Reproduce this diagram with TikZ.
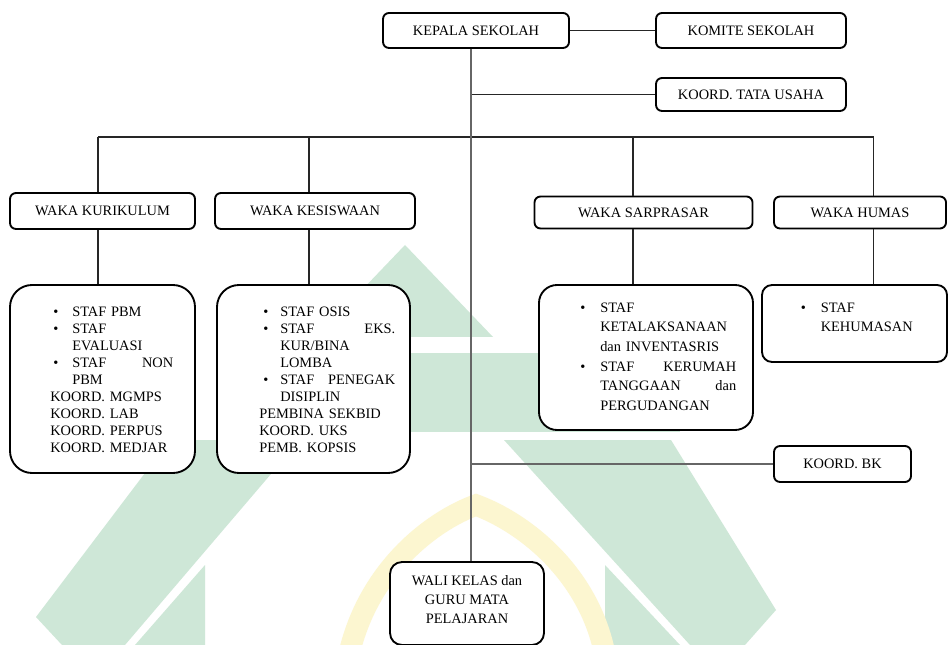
\documentclass[tikz,border=0pt]{standalone}
\usepackage{fontspec}
\setmainfont{Liberation Serif}
\setlength{\parindent}{0pt}
\setlength{\parskip}{0pt}
\definecolor{wmgreen}{RGB}{206,231,215}
\definecolor{wmyellow}{RGB}{252,246,208}
\newcommand{\bl}[2]{\makebox[#1][l]{\hspace{#2}\textbullet}}
\tikzset{
  box/.style={draw=black, line width=1.4pt, fill=white, rounded corners=4.5pt, inner sep=0pt,
              font=\fontsize{10.8pt}{12.75pt}\selectfont},
  bigbox/.style={box, rounded corners=16.5pt},
  txt/.style={inner sep=0pt, anchor=north west, align=left,
              font=\fontsize{10.8pt}{12.75pt}\selectfont},
  link/.style={draw=black!85, line width=0.8pt},
  spineline/.style={draw=black!60, line width=1pt},
}
\begin{document}
\begin{tikzpicture}[x=0.75pt, y=-0.75pt]
\useasboundingbox (0,0) rectangle (950,645);
\fill[white] (0,0) rectangle (950,645);

% watermark (background logo)
\fill[wmgreen] (405,245) -- (493,337) -- (317,337) -- cycle;
\fill[wmgreen] (330,353) -- (680,353) -- (680,432) -- (330,432) -- cycle;
\fill[wmgreen] (504,440) -- (671,440) -- (776,610) -- (745,645) -- (690,645) -- cycle;
\fill[wmgreen] (605,565) -- (605,645) -- (680,645) -- cycle;
\fill[wmgreen] (300,440) -- (170,440) -- (36,617) -- (62,645) -- (125,645) -- cycle;
\fill[wmgreen] (205,565) -- (205,645) -- (135,645) -- cycle;
\draw[wmyellow, line width=16pt] (350,650) .. controls (370,570) and (430,522) .. (476,505)
      .. controls (522,522) and (586,570) .. (604,650);

% spine x-position
\coordinate (spine) at (471,0);

% top level
\node[box, minimum width=139.5pt, minimum height=26.25pt] (kepala) at (476,30.5) {KEPALA SEKOLAH};
\node[box, minimum width=142.5pt, minimum height=26.25pt] (komite) at (751,30.5) {KOMITE SEKOLAH};
\node[box, minimum width=142.5pt, minimum height=24.75pt] (tata) at (751,94.5) {KOORD. TATA USAHA};

% waka level
\node[box, minimum width=138.75pt, minimum height=27pt] (wkur) at (102.5,211) {WAKA KURIKULUM};
\node[box, minimum width=150pt, minimum height=27pt] (wkes) at (315,211) {WAKA KESISWAAN};
\node[box, minimum width=163.5pt, minimum height=24pt] (wsar) at (643.5,212.5) {WAKA SARPRASAR};
\node[box, minimum width=129pt, minimum height=24pt] (whum) at (860,212.5) {WAKA HUMAS};

% staff boxes
\node[bigbox, minimum width=138.75pt, minimum height=141pt] (skur) at (102.5,379) {};
\node[bigbox, minimum width=144.75pt, minimum height=141pt] (skes) at (313.5,379) {};
\node[box, rounded corners=13.5pt, minimum width=160.5pt, minimum height=108.75pt] (ssar) at (646,357.5) {};
\node[box, rounded corners=7.5pt, minimum width=138.75pt, minimum height=57.75pt] (shum) at (854.5,323.5) {};

\node[txt, text width=92.25pt] (tkur) at (50,306.8) {%
\bl{16.5pt}{2.25pt}STAF PBM\\
\bl{16.5pt}{2.25pt}STAF\\
\hspace*{16.5pt}EVALUASI\\
\bl{16.5pt}{2.25pt}STAF\hfill NON\\
\hspace*{16.5pt}PBM\\
KOORD. MGMPS\\
KOORD. LAB\\
KOORD. PERPUS\\
KOORD. MEDJAR};

\node[txt, text width=102pt] (tkes) at (259,306.8) {%
\bl{15.75pt}{3pt}STAF OSIS\\
\bl{15.75pt}{3pt}STAF\hfill EKS.\\
\hspace*{15.75pt}KUR/BINA\\
\hspace*{15.75pt}LOMBA\\
\bl{15.75pt}{3pt}STAF\hfill PENEGAK\\
\hspace*{15.75pt}DISIPLIN\\
PEMBINA SEKBID\\
KOORD. UKS\\
PEMB. KOPSIS};

\node[txt, text width=117pt, font=\fontsize{10.8pt}{14.7pt}\selectfont] (tsar) at (580,302.5) {%
\bl{15pt}{0pt}STAF\\
\hspace*{15pt}KETALAKSANAAN\\
\hspace*{15pt}dan INVENTASRIS\\
\bl{15pt}{0pt}STAF\hfill KERUMAH\\
\hspace*{15pt}TANGGAAN\hfill dan\\
\hspace*{15pt}PERGUDANGAN};

\node[txt, text width=105pt, font=\fontsize{10.8pt}{14.7pt}\selectfont] (thum) at (800.5,302.5) {%
\bl{15pt}{0pt}STAF\\
\hspace*{15pt}KEHUMASAN};

% lower boxes
\node[box, minimum width=102.75pt, minimum height=27pt] (bk) at (842.5,464) {KOORD. BK};
\node[box, rounded corners=9pt, minimum width=115.5pt, minimum height=62.25pt] (wali) at (467,603.5) {};
\node[inner sep=0pt, anchor=north, align=center, font=\fontsize{10.8pt}{14.25pt}\selectfont] (twali) at (467,575.5)
  {WALI KELAS dan\\GURU MATA\\PELAJARAN};

% connectors
\coordinate (bar) at (0,137);
\coordinate (dkur) at (98,0);
\coordinate (dkes) at (309,0);
\coordinate (dsar) at (633,0);
\coordinate (dhum) at (873.5,0);

\draw[link] (kepala.east) -- (komite.west);
\draw[link] (tata.west) -- (tata.west -| spine);
\draw[link] (bar -| dkur) -- (bar -| dhum);
\draw[link] (bar -| dkur) -- (wkur.north -| dkur);
\draw[link] (bar -| dkes) -- (wkes.north -| dkes);
\draw[link] (bar -| dsar) -- (wsar.north -| dsar);
\draw[link] (bar -| dhum) -- (whum.north -| dhum);
\draw[link] (wkur.south -| dkur) -- (skur.north -| dkur);
\draw[link] (wkes.south -| dkes) -- (skes.north -| dkes);
\draw[link] (wsar.south -| dsar) -- (ssar.north -| dsar);
\draw[link] (whum.south -| dhum) -- (shum.north -| dhum);
\draw[spineline] (kepala.south -| spine) -- (wali.north -| spine);
\draw[spineline] (bk.west) -- (bk.west -| spine);
\end{tikzpicture}
\end{document}
